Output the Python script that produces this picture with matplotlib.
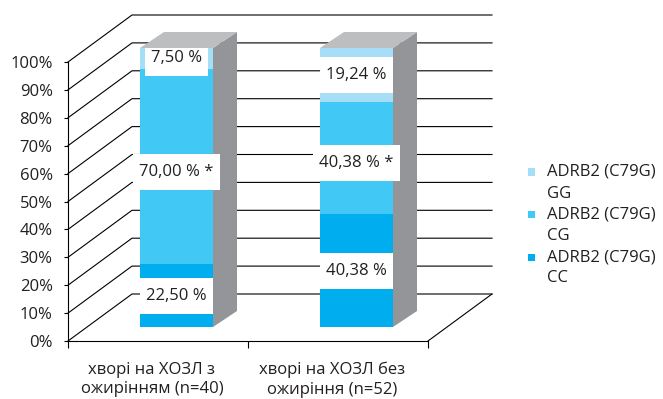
import matplotlib
matplotlib.use("Agg")
import matplotlib.pyplot as plt
from matplotlib.patches import Polygon, Rectangle
from matplotlib.transforms import ScaledTranslation
import numpy as np

plt.rcParams['font.family'] = ['Open Sans', 'DejaVu Sans']

# --------------------------------------------------
# DATA
# --------------------------------------------------
groups = ["хворі на ХОЗЛ з\nожирінням (n=40)", "хворі на ХОЗЛ без\nожиріння (n=52)"]
genotypes = ["CC", "CG", "GG"]
cc = [22.50, 40.38]
cg = [70.00, 40.38]
gg = [7.50, 19.24]
starred = ["CG"]            # labels with asterisk
yticks = list(range(0, 101, 10))
legend_name = "ADRB2 (C79G)"

# Farben
COLORS = {"CC": "#00AEEF", "CG": "#41C8F5", "GG": "#A7DEF7"}
SIDE = "#939598"
TOP = "#BCBEC0"
TEXT = "#231F20"

# --------------------------------------------------
# FIGURE / AXES (axes = front face of the 3D box)
# --------------------------------------------------
W, H = 663, 399
fig = plt.figure(figsize=(W / 100, H / 100), dpi=100)
x0_px, x1_px, y0_px, y1_px = 68, 428, 341, 62
ax = fig.add_axes([x0_px / W, 1 - y0_px / H, (x1_px - x0_px) / W, (y0_px - y1_px) / H])
ax.set_xlim(-0.5, 1.5)
ax.set_ylim(0, 100)

# pixel -> data scale
sx = 2.0 / (x1_px - x0_px)
sy = 100.0 / (y0_px - y1_px)

wall_dx, wall_dy = 64 * sx, 47 * sy      # depth of the whole box
bar_dx, bar_dy = 24 * sx, 16 * sy        # depth of a bar
front_dx, front_dy = 18.5 * sx, 14 * sy  # bars stand a bit back from the front edge
bar_w = 73 * sx

# Wände / Gitterlinien
for v in yticks:
    ax.plot([-0.5, -0.5 + wall_dx, 1.5 + wall_dx], [v, v + wall_dy, v + wall_dy],
            color='black', lw=0.8, clip_on=False, zorder=1)
ax.plot([1.5, 1.5 + wall_dx], [0, wall_dy], color='black', lw=0.8, clip_on=False, zorder=1)

# Balken (Vorderseite)
x = np.arange(len(groups)) + front_dx
stack = {"CC": cc, "CG": cg, "GG": gg}
bottom = np.zeros(len(groups))
for g in genotypes:
    vals = np.array(stack[g])
    ax.bar(x, vals, bar_w, bottom=bottom + front_dy, color=COLORS[g],
           zorder=3, clip_on=False)
    bottom += vals
totals = bottom.copy()

# Seiten- und Deckfläche
for xi, tot in zip(x, totals):
    xl, xr = xi - bar_w / 2, xi + bar_w / 2
    yb, yt = front_dy, tot + front_dy
    side = Polygon([(xr, yb), (xr + bar_dx, yb + bar_dy), (xr + bar_dx, yt + bar_dy), (xr, yt)],
                   closed=True, fc=SIDE, ec='none', zorder=3, clip_on=False)
    top = Polygon([(xl, yt), (xr, yt), (xr + bar_dx, yt + bar_dy), (xl + bar_dx, yt + bar_dy)],
                  closed=True, fc=TOP, ec='none', zorder=5, clip_on=False)
    ax.add_patch(side)
    ax.add_patch(top)

# Datenbeschriftungen
labels = []
bottom = np.zeros(len(groups))
for g in genotypes:
    vals = np.array(stack[g])
    for i, v in enumerate(vals):
        txt = f"{v:.2f} %".replace('.', ',')
        yc = bottom[i] + v / 2 + front_dy
        if g in starred:
            txt += " *"
            yc -= 5 * sy
        t = ax.text(x[i], yc, txt, ha='center', va='center',
                    fontsize=12, color=TEXT, zorder=4.5)
        labels.append((t, i, yc))
    bottom += vals

# weiße Kästen hinter den Beschriftungen
fig.canvas.draw()
renderer = fig.canvas.get_renderer()
for t, i, yc in labels:
    bb = t.get_window_extent(renderer)
    bw = (bb.width + 12) * sx
    y_lo = yc - 18 * sy
    y_hi = min(yc + 18 * sy, totals[i] + front_dy)
    ax.add_patch(Rectangle((x[i] - bw / 2, y_lo), bw, y_hi - y_lo, fc='white', ec='none',
                           zorder=4, clip_on=False))

# Achsen
ax.set_yticks(yticks)
ax.set_yticklabels([f"{v}%" for v in yticks], fontsize=12, color=TEXT)
ax.set_xticks([-0.5, 0.5, 1.5])
ax.set_xticklabels([])
ax.set_xticks([0, 1], minor=True)
ax.set_xticklabels(groups, minor=True, fontsize=12, color=TEXT, linespacing=1.3)
ax.tick_params(axis='x', which='minor', length=0, pad=15)
ax.tick_params(axis='x', which='major', length=5, width=0.8)
ax.tick_params(axis='y', length=3, width=0.8, pad=8)
for lab in ax.get_xticklabels(minor=True):
    lab.set_transform(lab.get_transform() + ScaledTranslation(-6 / 100, 0, fig.dpi_scale_trans))
for s in ['top', 'right']:
    ax.spines[s].set_visible(False)
for s in ['left', 'bottom']:
    ax.spines[s].set_linewidth(0.8)

# Legende (GG oben)
for k, g in enumerate(reversed(genotypes)):
    yc = 172 + k * 42.5
    fig.patches.append(Rectangle((528 / W, 1 - (yc + 3.5) / H), 7 / W, 7 / H,
                                 transform=fig.transFigure, fc=COLORS[g], ec='none'))
    fig.text(547 / W, 1 - yc / H, legend_name, fontsize=12, color=TEXT, va='center')
    fig.text(547 / W, 1 - (yc + 21.5) / H, g, fontsize=12, color=TEXT, va='center')

plt.savefig('out.png', dpi=100)
